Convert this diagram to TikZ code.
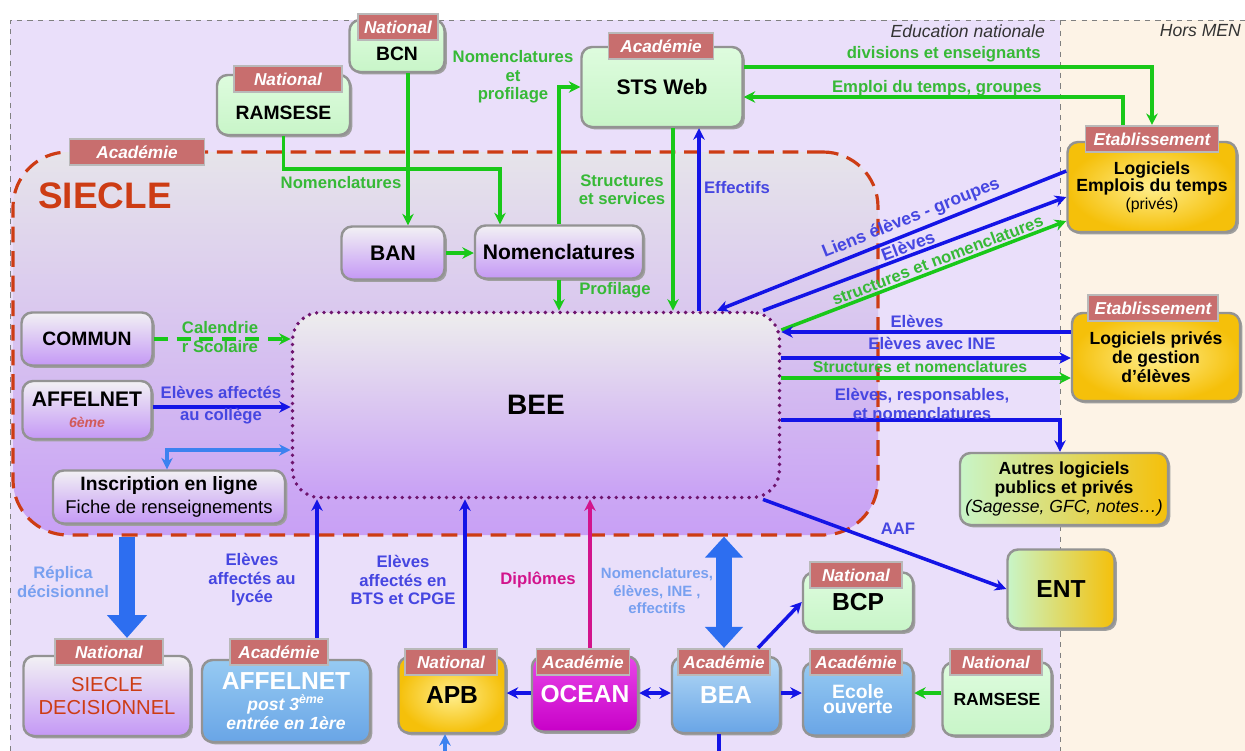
\documentclass[tikz,border=0pt]{standalone}
\usepackage{fontspec}
\setmainfont{Liberation Sans}
\usetikzlibrary{arrows.meta,shadows,calc}

\definecolor{menbg}{RGB}{234,223,250}
\definecolor{horsbg}{RGB}{253,243,230}
\definecolor{tagred}{RGB}{200,110,110}
\definecolor{siered}{RGB}{205,60,20}
\definecolor{flowg}{RGB}{25,200,25}
\definecolor{flowb}{RGB}{20,20,230}
\definecolor{txtg}{RGB}{55,185,55}
\definecolor{txtb}{RGB}{70,70,225}
\definecolor{flowl}{RGB}{60,130,240}
\definecolor{thickb}{RGB}{45,110,240}
\definecolor{palebl}{RGB}{120,160,240}
\definecolor{magen}{RGB}{210,20,140}
\definecolor{beedot}{RGB}{110,20,110}
\definecolor{boxg}{RGB}{200,245,200}
\definecolor{boxgt}{RGB}{222,252,222}
\definecolor{boxpt}{RGB}{242,241,244}
\definecolor{boxpb}{RGB}{196,152,245}
\definecolor{boxyi}{RGB}{255,238,140}
\definecolor{boxyo}{RGB}{245,192,10}
\definecolor{boxbt}{RGB}{150,202,242}
\definecolor{boxbb}{RGB}{105,165,230}
\definecolor{boxmt}{RGB}{232,70,232}
\definecolor{boxmb}{RGB}{200,0,200}
\definecolor{sietop}{RGB}{230,228,234}
\definecolor{siebot}{RGB}{200,160,245}
\definecolor{sixred}{RGB}{210,90,90}

\tikzset{
  sys/.style 2 args={draw=gray!85, line width=1.4pt, rounded corners=6pt,
    minimum width=#1*0.02cm, minimum height=#2*0.02cm, inner sep=1pt, align=center,
    font=\fontsize{11}{13}\selectfont\bfseries,
    drop shadow={shadow xshift=1.3pt, shadow yshift=-1.3pt, fill=gray!75, opacity=1}},
  f10/.style={font=\fontsize{10}{11}\selectfont\bfseries},
  f12/.style={font=\fontsize{12}{14}\selectfont\bfseries},
  f14/.style={font=\fontsize{14}{16}\selectfont\bfseries},
  low/.style={text height=#1, text depth=0pt},
  gbox/.style={top color=boxgt, bottom color=boxg},
  pbox/.style={top color=boxpt, bottom color=boxpb},
  ybox/.style={inner color=boxyi, outer color=boxyo},
  gybox/.style={left color=boxg, middle color=boxgt!60!boxyi, right color=boxyo},
  bbox/.style={top color=boxbt, bottom color=boxbb, text=white},
  mbox/.style={top color=boxmt, bottom color=boxmb, text=white},
  tag/.style={fill=tagred, draw=gray!55, line width=1pt, text=white, inner sep=1pt,
    minimum width=#1*0.02cm, minimum height=15pt,
    font=\fontsize{9.8}{11}\selectfont\bfseries\itshape},
  siecle/.style={draw=siered, line width=1.8pt, dash pattern=on 9pt off 5pt,
    rounded corners=1.1cm, top color=sietop, bottom color=siebot,
    minimum width=865*0.02cm, minimum height=383*0.02cm, inner sep=0pt},
  bee/.style={draw=beedot, line width=2.2pt, dash pattern=on 0pt off 4.2pt, line cap=round,
    rounded corners=0.55cm, top color=gray!14, bottom color=siebot,
    minimum width=487*0.02cm, minimum height=185*0.02cm,
    font=\fontsize{16}{18}\selectfont\bfseries},
  zone/.style={font=\fontsize{10}{12}\selectfont\itshape, text=black!80, inner sep=1pt},
  glab/.style={text=txtg, align=center, inner sep=0pt, font=\fontsize{9.5}{10.5}\selectfont\bfseries},
  blab/.style={glab, text=txtb},
  mlab/.style={glab, text=magen},
  plab/.style={glab, text=palebl},
  gline/.style={draw=flowg, line width=2pt, -{Stealth[length=6.5pt,width=6.5pt]}},
  bline/.style={gline, draw=flowb},
  lline/.style={gline, draw=flowl},
  mline/.style={gline, draw=magen},
  fat/.style={draw=thickb, line width=9pt, -{Triangle[length=13pt,width=22pt]}}
}

\begin{document}
\begin{tikzpicture}[x=0.02cm, y=-0.02cm]
  \useasboundingbox (0,0) rectangle (1245,751);
  % zones
  \fill[menbg] (10,20) rectangle (1060,751);
  \fill[horsbg] (1060,20) rectangle (1245,751);
  \draw[gray, dashed] (10,751) -- (10,20) -- (1245,20) (1060,20) -- (1060,751);
  \node[zone, anchor=east] (men) at (1047,31) {Education nationale};
  \node[zone, anchor=east] (hors) at (1243,31) {Hors MEN};

  % SIECLE
  \node[siecle] (siecle) at (445.5,343.5) {};
  \node[tag=135] (siecle-t) at (137,152) {Académie};
  \node[font=\fontsize{21}{24}\selectfont\bfseries, text=siered] (siecle-n) at (105,196) {SIECLE};
  \node[bee] (bee) at (536,405) {BEE};
  \node[sys={103}{53}, pbox, f12] (ban) at (393,253) {BAN};
  \node[sys={168}{53}, pbox, f12] (nomen) at (559,252) {Nomenclatures};
  \node[sys={131}{53}, pbox] (commun) at (87,339) {COMMUN};
  \node[sys={129}{58}, pbox, font=\fontsize{12}{12}\selectfont\bfseries] (aff6) at (87,410) {AFFELNET\\{\fontsize{8}{9}\selectfont\itshape\color{sixred}6ème}};
  \node[sys={232}{53}, pbox] (insc) at (169,497) {Inscription en ligne\\{\mdseries\fontsize{10.5}{12}\selectfont Fiche de renseignements}};

  % systemes nationaux et academiques
  \node[sys={95}{52}, gbox, low=16pt] (bcn) at (397,46) {BCN};
  \node[tag=80] (bcn-t) at (398,27) {National};
  \node[sys={133}{60}, gbox, low=16pt] (ram1) at (283.5,105) {RAMSESE};
  \node[tag=108] (ram1-t) at (288,79) {National};
  \node[sys={161}{80}, gbox, f12] (sts) at (662,87) {STS Web};
  \node[tag=105] (sts-t) at (661,46) {Académie};

  % etablissement et hors MEN
  \node[sys={169}{90}, ybox, font=\fontsize{10}{10}\selectfont\bfseries] (edt) at (1152,187)
    {Logiciels\\Emplois du temps\\{\mdseries\fontsize{9}{10}\selectfont (privés)}};
  \node[tag=133] (edt-t) at (1152,139) {Etablissement};
  \node[sys={168}{88}, ybox, font=\fontsize{10}{11}\selectfont\bfseries] (priv) at (1156,357)
    {Logiciels privés\\de gestion\\d’élèves};
  \node[tag=130] (priv-t) at (1153,308) {Etablissement};
  \node[sys={208}{72}, gybox, font=\fontsize{10}{10.8}\selectfont\bfseries] (autres) at (1064,489)
    {Autres logiciels\\publics et privés\\{\mdseries\itshape (Sagesse, GFC, notes…)}};
  \node[sys={107}{79}, gybox, f14] (ent) at (1061,589) {ENT};

  % bas
  \node[sys={167}{80}, pbox, font=\fontsize{11.5}{13}\selectfont, text=siered] (sdec) at (107,696) {SIECLE\\DECISIONNEL};
  \node[tag=108] (sdec-t) at (109,652) {National};
  \node[sys={168}{82}, bbox, font=\fontsize{14}{12}\selectfont\bfseries] (aff3) at (286,701)
    {AFFELNET\\{\fontsize{10}{11}\selectfont\itshape post 3\textsuperscript{ème}}\\[-1pt]{\fontsize{10}{11}\selectfont\itshape entrée en 1ère}};
  \node[tag=98] (aff3-t) at (279,652) {Académie};
  \node[sys={107}{76}, ybox, f14] (apb) at (452,695) {APB};
  \node[tag=92] (apb-t) at (451,662) {National};
  \node[sys={106}{75}, mbox, f14] (ocean) at (585,694) {OCEAN};
  \node[tag=93] (ocean-t) at (583,662) {Académie};
  \node[sys={108}{76}, bbox, f14, top color=boxbt!70!white] (bea) at (726,695) {BEA};
  \node[tag=92] (bea-t) at (724,662) {Académie};
  \node[sys={110}{59}, gbox, f14] (bcp) at (858,602) {BCP};
  \node[tag=92] (bcp-t) at (856,575) {National};
  \node[sys={110}{73}, bbox, font=\fontsize{11}{9}\selectfont\bfseries] (ecole) at (858,699) {Ecole\\ouverte};
  \node[tag=92] (ecole-t) at (856,662) {Académie};
  \node[sys={109}{73}, gbox, f10] (ram2) at (997,699) {RAMSESE};
  \node[tag=92] (ram2-t) at (996,662) {National};

  % flux du haut
  \draw[gline] (ram1.south) -- ++(0,33) -| ($(nomen.north)+(-59,0)$);
  \node[glab] (l-nom1) at (341,183) {Nomenclatures};
  \draw[gline] ($(bcn.south)+(11,0)$) -- ($(ban.north)+(15,0)$);
  \draw[gline] (ban.east) -- (ban.east -| nomen.west);
  \draw[gline] (nomen.north) |- (sts.west);
  \node[glab] (l-nom2) at (513,77) {Nomenclatures\\et\\profilage};
  \draw[gline] (nomen.south) -- (nomen.south |- bee.north);
  \node[glab] (l-prof) at (615,290) {Profilage};
  \draw[gline] (sts.south -| 673,0) -- (bee.north -| 673,0);
  \node[glab] (l-struct) at (622,190) {Structures\\et services};
  \draw[bline] (bee.north -| 699,0) -- (sts.south -| 699,0);
  \node[blab] (l-eff) at (737,188) {Effectifs};
  \draw[gline] (sts.east |- 0,67) -| (edt-t.north);
  \node[glab, anchor=east] (l-div) at (1041,54) {divisions et enseignants};
  \draw[gline] (edt-t.north -| 1123,0) |- (sts.east |- 0,97);
  \node[glab, anchor=east] (l-emp) at (1042,88) {Emploi du temps, groupes};

  % flux vers les logiciels
  \draw[bline] (edt.west |- 0,171) -- node[blab, sloped, above=2pt, pos=.43, font=\fontsize{10}{11}\selectfont\bfseries] (l-liens) {Liens élèves - groupes} (bee.north -| 717,0);
  \draw[bline] (bee.north -| 763,0) -- node[blab, sloped, above=1pt, pos=.49, font=\fontsize{10}{11}\selectfont\bfseries] (l-el1) {Elèves} (edt.west |- 0,197);
  \draw[gline] (bee.east |- 0,330) -- node[glab, sloped, above=1pt, pos=.56] (l-sn1) {structures et nomenclatures} (edt.west |- 0,221);
  \draw[bline] (priv.west |- 0,332) -- (bee.east |- 0,332);
  \node[blab] (l-el2) at (917,321) {Elèves};
  \draw[bline] (bee.east |- 0,358) -- (priv.west |- 0,358);
  \node[blab] (l-ine) at (932,343) {Elèves avec INE};
  \draw[gline] (bee.east |- 0,378) -- (priv.west |- 0,378);
  \node[glab, font=\fontsize{9}{10}\selectfont\bfseries] (l-sn2) at (920,367) {Structures et nomenclatures};
  \draw[bline] (bee.east |- 0,420) -| (autres.north -| 1060,0);
  \node[blab] (l-resp) at (922,404) {Elèves, responsables,\\et nomenclatures};
  \draw[bline] (bee.south -| 763,0) -- (ent.west);
  \node[blab] (l-aaf) at (898,529) {AAF};

  % flux de gauche
  \draw[gline, dash pattern=on 8pt off 5pt] (commun.east) -- (commun.east -| bee.west);
  \node[glab] (l-cal) at (220,337) {Calendrie\\r Scolaire};
  \draw[bline] (aff6.east |- 0,407) -- (bee.west |- 0,407);
  \node[blab] (l-coll) at (221,405) {Elèves affectés\\[2pt]au collège};
  \draw[lline, {Stealth[length=6.5pt,width=6.5pt]}-{Stealth[length=6.5pt,width=6.5pt]}] (insc.north -| 167,0) |- (bee.west |- 0,450);

  % flux du bas
  \draw[fat] (siecle.south -| 127,0) -- (sdec-t.north -| 127,0);
  \node[plab] (l-repl) at (63,582) {Réplica\\décisionnel};
  \draw[bline] (aff3-t.north -| 317,0) -- (bee.south -| 317,0);
  \node[blab] (l-lyc) at (252,580) {Elèves\\affectés au\\lycée};
  \draw[bline] (apb-t.north -| 465,0) -- (bee.south -| 465,0);
  \node[blab] (l-bts) at (403,580) {Elèves\\affectés en\\BTS et CPGE};
  \draw[mline] (ocean-t.north -| 590,0) -- (bee.south -| 590,0);
  \node[mlab] (l-dipl) at (538,580) {Diplômes};
  \draw[fat, {Triangle[length=12pt,width=21pt]}-{Triangle[length=12pt,width=21pt]}] (siecle.south -| 724,0) -- (bea-t.north -| 724,0);
  \node[plab, font=\fontsize{8.5}{10}\selectfont\bfseries] (l-bea) at (657,591) {Nomenclatures,\\élèves, INE ,\\effectifs};
  \draw[bline] (ocean.west |- 0,693) -- (apb.east |- 0,693);
  \draw[bline, {Stealth[length=6.5pt,width=6.5pt]}-{Stealth[length=6.5pt,width=6.5pt]}] (ocean.east |- 0,693) -- (bea.west |- 0,693);
  \draw[bline] (bea.east |- 0,693) -- (ecole.west |- 0,693);
  \draw[bline] (bea-t.north -| 758,0) -- (bcp.west);
  \draw[gline] (ram2.west |- 0,693) -- (ecole.east |- 0,693);
  \coordinate (apb-in) at (445,751);
  \coordinate (bea-out) at (719,751);
  \draw[lline] (apb-in) -- (apb.south -| 445,0);
  \draw[bline, -] (bea.south -| 719,0) -- (bea-out);
\end{tikzpicture}
\end{document}
